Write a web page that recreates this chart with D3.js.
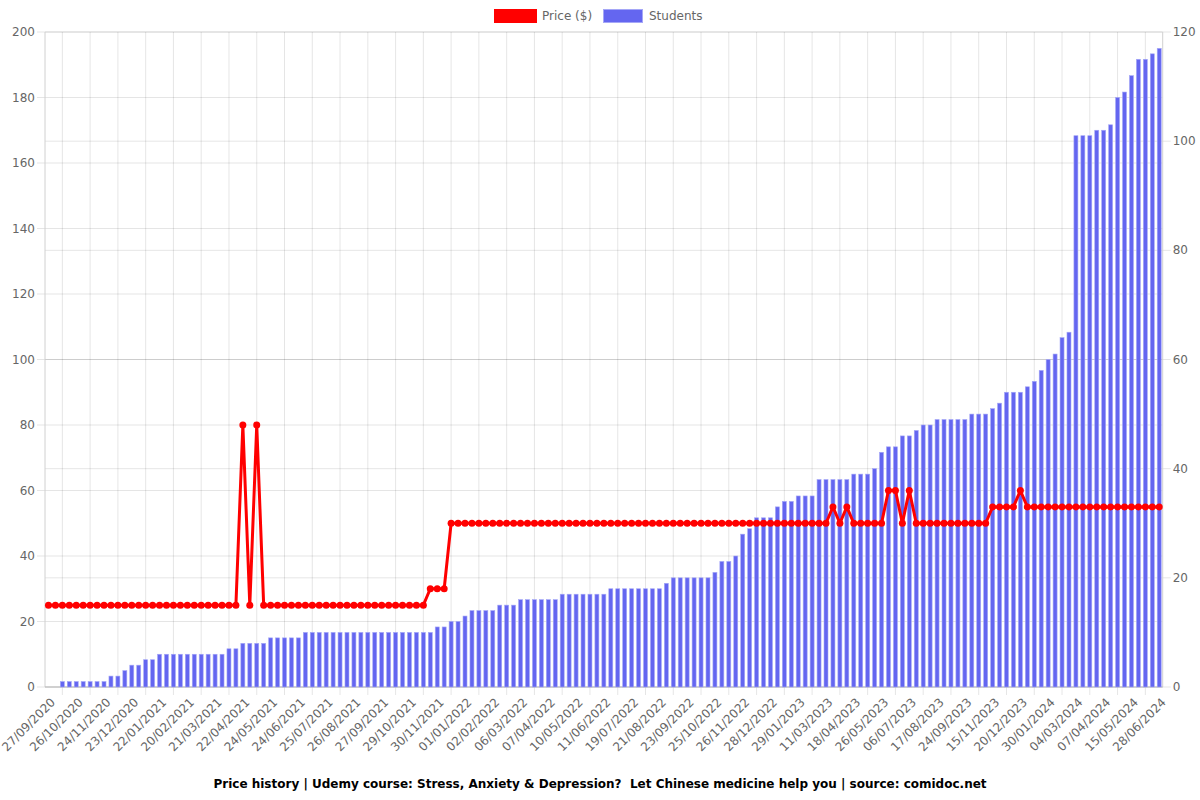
<!DOCTYPE html>
<html>
<head>
<meta charset="utf-8">
<script src="https://cdn.jsdelivr.net/npm/d3@7"></script>
<style>
  body { margin: 0; background: #fff; }
  svg { font-family: "DejaVu Sans", sans-serif; }
</style>
</head>
<body>
<svg id="chart" width="1200" height="800"></svg>
<script>
const tickLabels = ['27/09/2020', '26/10/2020', '24/11/2020', '23/12/2020', '22/01/2021', '20/02/2021', '21/03/2021',
  '22/04/2021', '24/05/2021', '24/06/2021', '25/07/2021', '26/08/2021', '27/09/2021', '29/10/2021', '30/11/2021',
  '01/01/2022', '02/02/2022', '06/03/2022', '07/04/2022', '10/05/2022', '11/06/2022', '19/07/2022', '21/08/2022',
  '23/09/2022', '25/10/2022', '26/11/2022', '28/12/2022', '29/01/2023', '11/03/2023', '18/04/2023', '26/05/2023',
  '06/07/2023', '17/08/2023', '24/09/2023', '15/11/2023', '20/12/2023', '30/01/2024', '04/03/2024', '07/04/2024',
  '15/05/2024', '28/06/2024']
const tickEvery = 4

const price = [
  25, 25, 25, 25, 25, 25, 25, 25, 25, 25, 25, 25, 25, 25, 25, 25, 25, 25, 25, 25,
  25, 25, 25, 25, 25, 25, 25, 25, 80, 25, 80, 25, 25, 25, 25, 25, 25, 25, 25, 25,
  25, 25, 25, 25, 25, 25, 25, 25, 25, 25, 25, 25, 25, 25, 25, 30, 30, 30, 50, 50,
  50, 50, 50, 50, 50, 50, 50, 50, 50, 50, 50, 50, 50, 50, 50, 50, 50, 50, 50, 50,
  50, 50, 50, 50, 50, 50, 50, 50, 50, 50, 50, 50, 50, 50, 50, 50, 50, 50, 50, 50,
  50, 50, 50, 50, 50, 50, 50, 50, 50, 50, 50, 50, 50, 55, 50, 55, 50, 50, 50, 50,
  50, 60, 60, 50, 60, 50, 50, 50, 50, 50, 50, 50, 50, 50, 50, 50, 55, 55, 55, 55,
  60, 55, 55, 55, 55, 55, 55, 55, 55, 55, 55, 55, 55, 55, 55, 55, 55, 55, 55, 55,
  55
]

const students = [
  0, 0, 1, 1, 1, 1, 1, 1, 1, 2, 2, 3, 4, 4, 5, 5, 6, 6, 6, 6,
  6, 6, 6, 6, 6, 6, 7, 7, 8, 8, 8, 8, 9, 9, 9, 9, 9, 10, 10, 10,
  10, 10, 10, 10, 10, 10, 10, 10, 10, 10, 10, 10, 10, 10, 10, 10, 11, 11, 12, 12,
  13, 14, 14, 14, 14, 15, 15, 15, 16, 16, 16, 16, 16, 16, 17, 17, 17, 17, 17, 17,
  17, 18, 18, 18, 18, 18, 18, 18, 18, 19, 20, 20, 20, 20, 20, 20, 21, 23, 23, 24,
  28, 29, 31, 31, 31, 33, 34, 34, 35, 35, 35, 38, 38, 38, 38, 38, 39, 39, 39, 40,
  43, 44, 44, 46, 46, 47, 48, 48, 49, 49, 49, 49, 49, 50, 50, 50, 51, 52, 54, 54,
  54, 55, 56, 58, 60, 61, 64, 65, 101, 101, 101, 102, 102, 103, 108, 109, 112, 115, 115, 116,
  117
]

const priceTicks = [0, 20, 40, 60, 80, 100, 120, 140, 160, 180, 200]
const studentTicks = [0, 20, 40, 60, 80, 100, 120]
const title = 'Price history | Udemy course: Stress, Anxiety & Depression?  Let Chinese medicine help you | source: comidoc.net'

let svg = d3.select('#chart')
let margin = { left: 45, right: 1162.7, top: 32, bottom: 687 }
let gridColor = 'rgba(0,0,0,0.1)'
let labelColor = '#666'

let categories = d3.range(price.length)
let x = d3.scaleBand()
  .domain(categories)
  .range([margin.left, margin.right])
let yPrice = d3.scaleLinear().domain([0, 200]).range([margin.bottom, margin.top])
let yStudents = d3.scaleLinear().domain([0, 120]).range([margin.bottom, margin.top])
let cx = (i) => x(i) + x.bandwidth() / 2

// ticks sit on every 4th category, grid lines halfway between them
let tickIdx = categories.filter((i) => i % tickEvery === 0)
let gridIdx = tickIdx.slice(0, -1).map((i) => i + tickEvery / 2)

let grid = svg.append('g')
grid.selectAll('.vgrid')
  .data(gridIdx)
  .enter().append('line')
  .attr('x1', (d) => cx(d)).attr('x2', (d) => cx(d))
  .attr('y1', margin.top).attr('y2', margin.bottom + 8)
  .attr('stroke', gridColor)
grid.selectAll('.hgridL')
  .data(priceTicks)
  .enter().append('line')
  .attr('x1', margin.left - 8).attr('x2', margin.right)
  .attr('y1', (d) => yPrice(d)).attr('y2', (d) => yPrice(d))
  .attr('stroke', gridColor)
grid.selectAll('.hgridR')
  .data(studentTicks)
  .enter().append('line')
  .attr('x1', margin.left).attr('x2', margin.right + 8)
  .attr('y1', (d) => yStudents(d)).attr('y2', (d) => yStudents(d))
  .attr('stroke', gridColor)

// axis borders
svg.append('line')
  .attr('x1', margin.left).attr('x2', margin.left)
  .attr('y1', margin.top).attr('y2', margin.bottom)
  .attr('stroke', '#d0d0d0')
svg.append('line')
  .attr('x1', margin.right).attr('x2', margin.right)
  .attr('y1', margin.top).attr('y2', margin.bottom)
  .attr('stroke', '#d0d0d0')
svg.append('line')
  .attr('x1', margin.left).attr('x2', margin.right)
  .attr('y1', margin.bottom).attr('y2', margin.bottom)
  .attr('stroke', '#bbb')

// bars
let barW = 4
svg.append('g').selectAll('rect')
  .data(students)
  .enter().append('rect')
  .attr('x', (d, i) => cx(i) - barW / 2)
  .attr('y', (d) => yStudents(d))
  .attr('width', barW)
  .attr('height', (d) => margin.bottom - yStudents(d))
  .attr('fill', '#6466f0')
  .attr('stroke', '#a5a7f7')
  .attr('stroke-width', 0.6)

// price line
let line = d3.line()
  .x((d, i) => cx(i))
  .y((d) => yPrice(d))
svg.append('path')
  .datum(price)
  .attr('d', line)
  .attr('fill', 'none')
  .attr('stroke', '#ff0000')
  .attr('stroke-width', 3)
  .attr('stroke-linejoin', 'round')
svg.append('g').selectAll('circle')
  .data(price)
  .enter().append('circle')
  .attr('cx', (d, i) => cx(i))
  .attr('cy', (d) => yPrice(d))
  .attr('r', 3.5)
  .attr('fill', '#ff0000')

// axis labels
svg.append('g').selectAll('text')
  .data(priceTicks)
  .enter().append('text')
  .attr('x', margin.left - 10)
  .attr('y', (d) => yPrice(d) + 4)
  .attr('text-anchor', 'end')
  .attr('font-size', 12)
  .attr('fill', labelColor)
  .text((d) => d)
svg.append('g').selectAll('text')
  .data(studentTicks)
  .enter().append('text')
  .attr('x', margin.right + 10)
  .attr('y', (d) => yStudents(d) + 4)
  .attr('font-size', 12)
  .attr('fill', labelColor)
  .text((d) => d)
svg.append('g').selectAll('text')
  .data(tickIdx)
  .enter().append('text')
  .attr('transform', (d) => `translate(${cx(d) + 7.5},703) rotate(-45)`)
  .attr('text-anchor', 'end')
  .attr('font-size', 12)
  .attr('fill', labelColor)
  .text((d, i) => tickLabels[i])

// legend
let legend = svg.append('g')
legend.append('rect')
  .attr('x', 494.5).attr('y', 9.5).attr('width', 42).attr('height', 13)
  .attr('fill', '#ff0000').attr('stroke', '#ff0000')
legend.append('text')
  .attr('x', 542).attr('y', 20)
  .attr('font-size', 12).attr('fill', labelColor)
  .text('Price ($)')
legend.append('rect')
  .attr('x', 603.5).attr('y', 9.5).attr('width', 39).attr('height', 13)
  .attr('fill', '#6466f0').attr('stroke', '#a5a7f7')
legend.append('text')
  .attr('x', 649).attr('y', 20)
  .attr('font-size', 12).attr('fill', labelColor)
  .text('Students')

svg.append('text')
  .attr('x', 600).attr('y', 788)
  .attr('text-anchor', 'middle')
  .attr('font-size', 12)
  .attr('font-weight', 'bold')
  .style('white-space', 'pre')
  .text(title)
</script>
</body>
</html>
